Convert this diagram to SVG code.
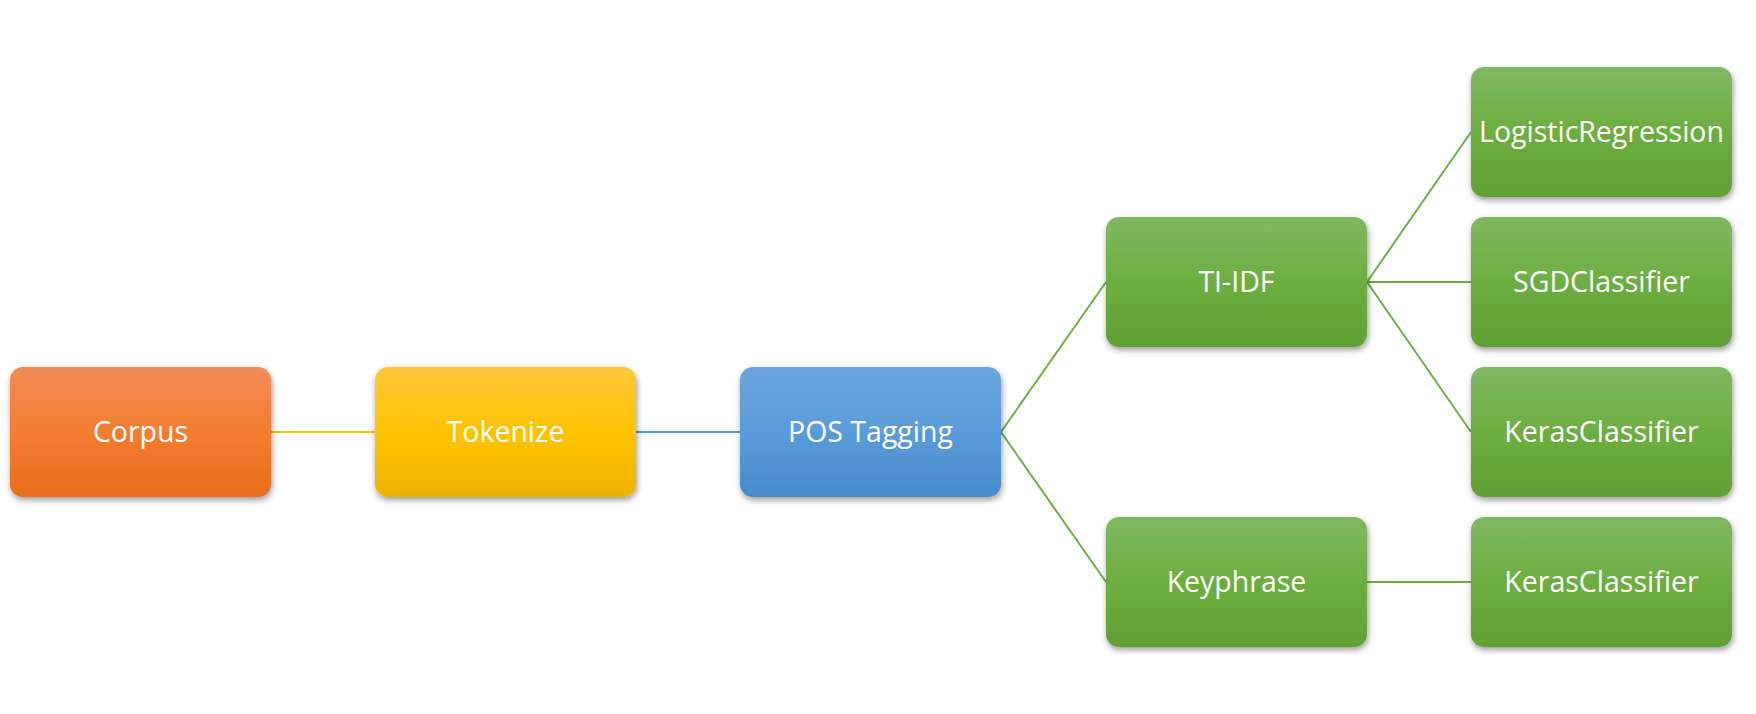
<svg xmlns="http://www.w3.org/2000/svg" width="1756" height="714" viewBox="0 0 1756 714">
<defs>
<linearGradient id="gOrange" x1="0" y1="0" x2="0" y2="1">
<stop offset="0" stop-color="#F08C58"/><stop offset="0.5" stop-color="#F47D2F"/><stop offset="1" stop-color="#E86C1C"/>
</linearGradient>
<linearGradient id="gYellow" x1="0" y1="0" x2="0" y2="1">
<stop offset="0" stop-color="#FFC83D"/><stop offset="0.5" stop-color="#FFC400"/><stop offset="1" stop-color="#EDB300"/>
</linearGradient>
<linearGradient id="gBlue" x1="0" y1="0" x2="0" y2="1">
<stop offset="0" stop-color="#6CA6DD"/><stop offset="0.5" stop-color="#5A9BD9"/><stop offset="1" stop-color="#468BCB"/>
</linearGradient>
<linearGradient id="gGreen" x1="0" y1="0" x2="0" y2="1">
<stop offset="0" stop-color="#80B862"/><stop offset="0.5" stop-color="#6DAE40"/><stop offset="1" stop-color="#61A133"/>
</linearGradient>
<filter id="shadow" x="-10%" y="-10%" width="125%" height="130%">
<feDropShadow dx="1" dy="3" stdDeviation="3" flood-color="#000" flood-opacity="0.4"/>
</filter>
</defs>
<style>
.box{filter:url(#shadow);}
.lbl{font-family:"Open Sans","Noto Sans","Liberation Sans",sans-serif;font-size:28.5px;fill:#fff;text-anchor:middle;}
.ln{fill:none;stroke-width:2;}
</style>
<rect width="1756" height="714" fill="#fff"/>
<g id="connectors">
<line class="ln" stroke="#FFC000" x1="271" y1="432" x2="375" y2="432"/>
<line class="ln" stroke="#5B9BD5" x1="636" y1="432" x2="740" y2="432"/>
<line class="ln" stroke="#70AD47" x1="1001" y1="432" x2="1106" y2="282"/>
<line class="ln" stroke="#70AD47" x1="1001" y1="432" x2="1106" y2="582"/>
<line class="ln" stroke="#70AD47" x1="1367" y1="282" x2="1471" y2="132"/>
<line class="ln" stroke="#70AD47" x1="1367" y1="282" x2="1471" y2="282"/>
<line class="ln" stroke="#70AD47" x1="1367" y1="282" x2="1471" y2="432"/>
<line class="ln" stroke="#70AD47" x1="1367" y1="582" x2="1471" y2="582"/>
</g>
<g id="corpus"><rect class="box" x="10" y="367" width="261" height="130" rx="13" fill="url(#gOrange)"/><text class="lbl" x="140.5" y="442.3">Corpus</text></g>
<g id="tokenize"><rect class="box" x="375" y="367" width="261" height="130" rx="13" fill="url(#gYellow)"/><text class="lbl" x="505.5" y="442.3">Tokenize</text></g>
<g id="pos"><rect class="box" x="740" y="367" width="261" height="130" rx="13" fill="url(#gBlue)"/><text class="lbl" x="870.5" y="442.3">POS Tagging</text></g>
<g id="tiidf"><rect class="box" x="1106" y="217" width="261" height="130" rx="13" fill="url(#gGreen)"/><text class="lbl" x="1236.5" y="292.3">TI-IDF</text></g>
<g id="keyphrase"><rect class="box" x="1106" y="517" width="261" height="130" rx="13" fill="url(#gGreen)"/><text class="lbl" x="1236.5" y="592.3">Keyphrase</text></g>
<g id="logreg"><rect class="box" x="1471" y="67" width="261" height="130" rx="13" fill="url(#gGreen)"/><text class="lbl" x="1601.5" y="142.3">LogisticRegression</text></g>
<g id="sgd"><rect class="box" x="1471" y="217" width="261" height="130" rx="13" fill="url(#gGreen)"/><text class="lbl" x="1601.5" y="292.3">SGDClassifier</text></g>
<g id="keras1"><rect class="box" x="1471" y="367" width="261" height="130" rx="13" fill="url(#gGreen)"/><text class="lbl" x="1601.5" y="442.3">KerasClassifier</text></g>
<g id="keras2"><rect class="box" x="1471" y="517" width="261" height="130" rx="13" fill="url(#gGreen)"/><text class="lbl" x="1601.5" y="592.3">KerasClassifier</text></g>
</svg>
